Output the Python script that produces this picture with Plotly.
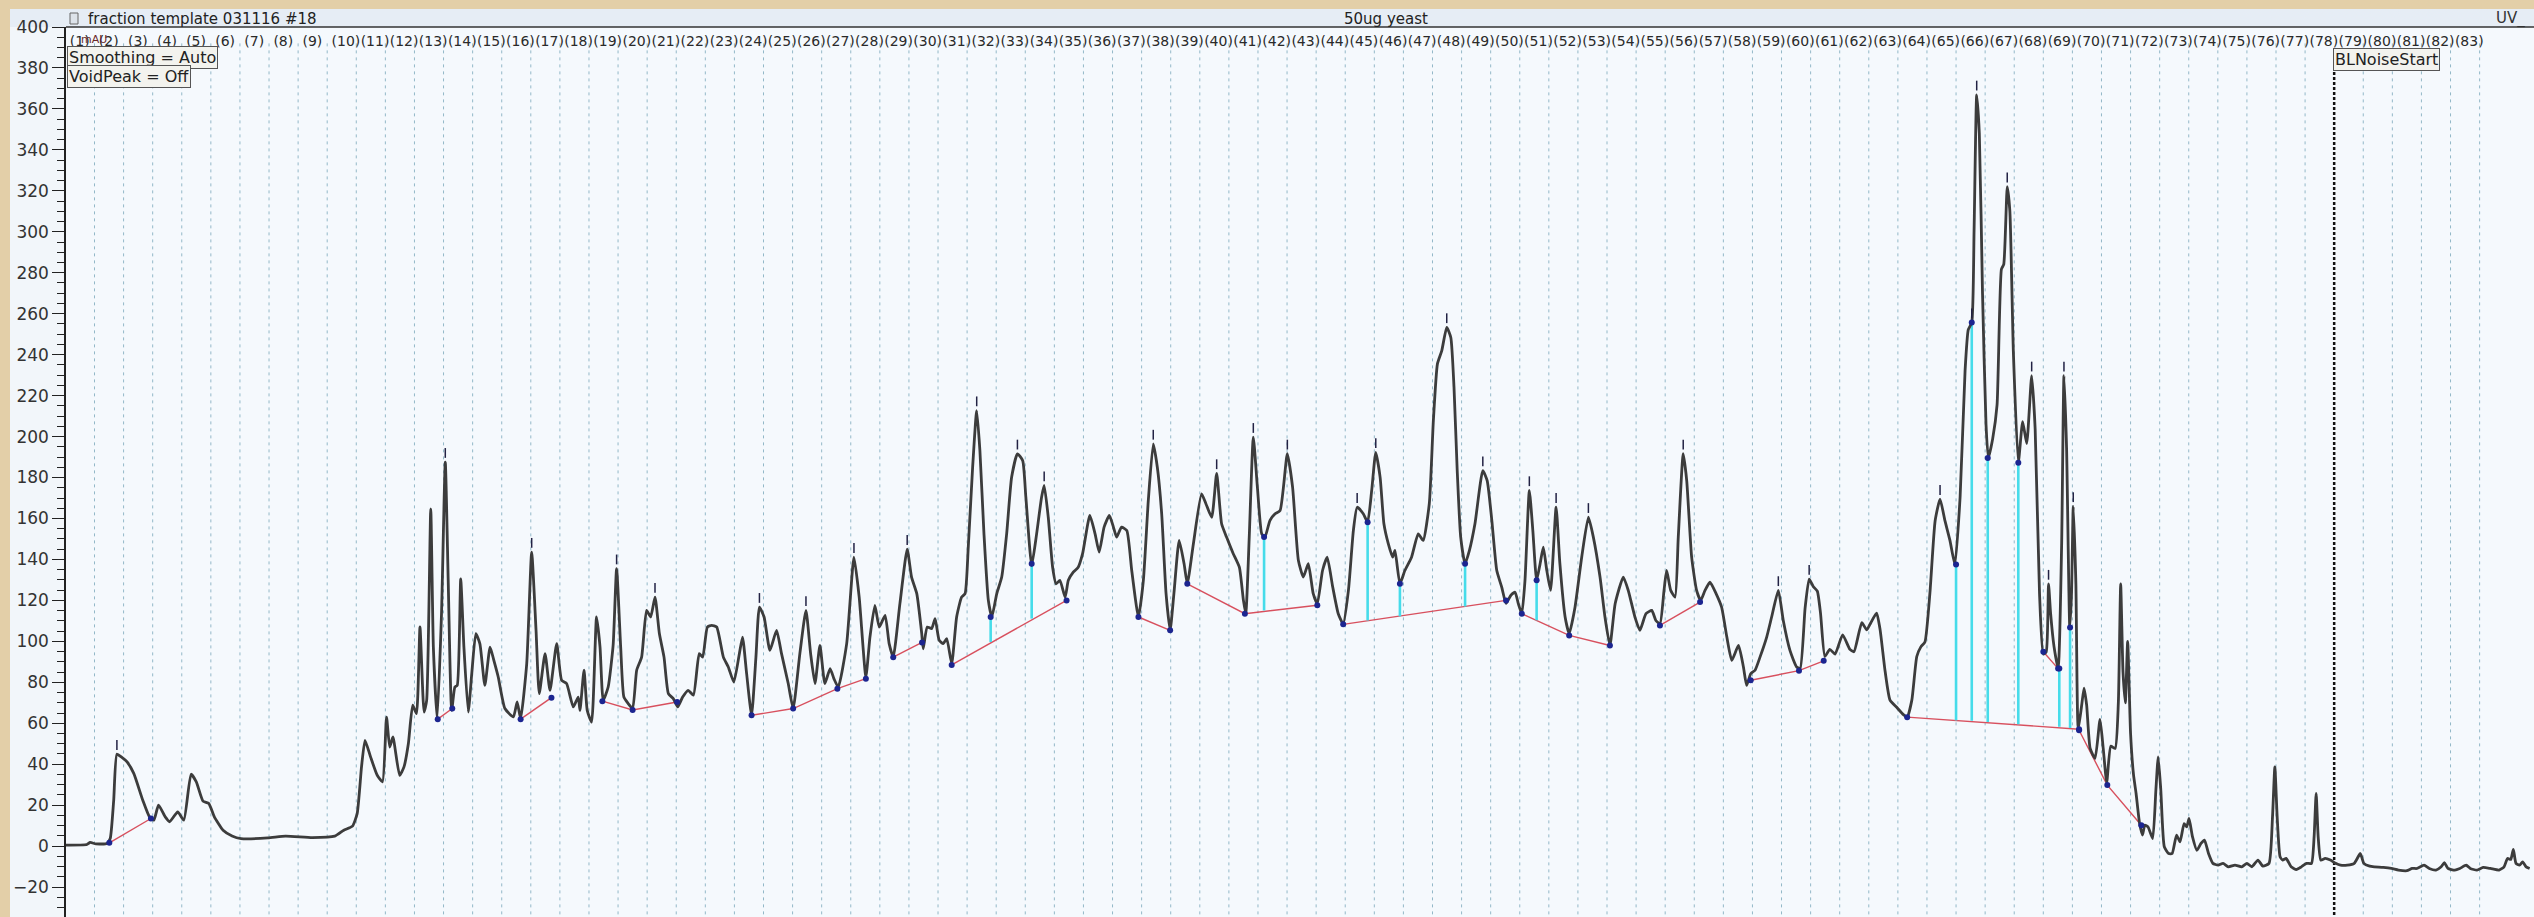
import plotly.graph_objects as go

# ---- UV trace (retention time in min, absorbance in mAU) ----
time_min = [
    0.00, 0.74, 0.85, 1.05, 1.43, 1.54, 1.66, 1.77, 1.92, 2.12, 2.35, 2.66, 2.89, 3.04, 3.20, 3.43,
    3.58, 3.86, 4.07, 4.32, 4.50, 4.73, 4.93, 5.12, 5.42, 5.73, 6.04, 6.96, 7.57, 8.49, 9.26, 9.57,
    9.87, 10.03, 10.18, 10.30, 10.49, 10.72, 10.90, 11.04, 11.15, 11.26, 11.49, 11.64, 11.79, 11.94,
    12.07, 12.19, 12.33, 12.42, 12.56, 12.65, 12.78, 12.93, 13.06, 13.16, 13.28, 13.39, 13.47, 13.59,
    13.70, 13.85, 13.97, 14.11, 14.25, 14.42, 14.60, 14.73, 14.88, 15.11, 15.40, 15.53, 15.65, 15.86,
    16.03, 16.18, 16.29, 16.49, 16.66, 16.89, 17.06, 17.23, 17.46, 17.63, 17.69, 17.83, 17.94, 18.09,
    18.26, 18.38, 18.49, 18.66, 18.83, 18.95, 19.09, 19.20, 19.35, 19.50, 19.64, 19.81, 19.98, 20.12,
    20.27, 20.42, 20.58, 20.73, 20.90, 21.05, 21.22, 21.41, 21.59, 21.79, 21.91, 22.07, 22.22, 22.39,
    22.62, 22.79, 22.98, 23.17, 23.28, 23.42, 23.59, 23.74, 23.86, 24.02, 24.22, 24.45, 24.62, 24.85,
    25.02, 25.25, 25.46, 25.62, 25.77, 25.94, 26.11, 26.29, 26.42, 26.57, 26.86, 27.11, 27.29, 27.52,
    27.66, 27.83, 27.98, 28.18, 28.32, 28.46, 28.69, 28.94, 29.09, 29.27, 29.44, 29.49, 29.63, 29.78,
    29.90, 30.04, 30.18, 30.30, 30.47, 30.64, 30.81, 30.93, 31.04, 31.19, 31.33, 31.44, 31.58, 31.73,
    31.85, 32.02, 32.19, 32.36, 32.53, 32.73, 32.91, 33.02, 33.22, 33.39, 33.56, 33.65, 33.79, 33.94,
    34.06, 34.19, 34.37, 34.48, 34.65, 34.82, 34.97, 35.22, 35.40, 35.54, 35.71, 35.89, 36.03, 36.14,
    36.31, 36.49, 36.66, 36.89, 37.06, 37.23, 37.40, 37.54, 37.69, 37.84, 37.98, 38.11, 38.29, 38.46,
    38.57, 38.78, 39.06, 39.21, 39.41, 39.58, 39.75, 39.92, 40.15, 40.36, 40.50, 40.58, 40.70, 40.84,
    40.98, 41.13, 41.24, 41.41, 41.59, 41.76, 42.01, 42.19, 42.39, 42.56, 42.73, 42.90, 43.04, 43.22,
    43.38, 43.57, 43.76, 43.93, 44.11, 44.28, 44.41, 44.62, 44.77, 44.91, 45.05, 45.20, 45.33, 45.48,
    45.63, 45.71, 45.88, 46.05, 46.28, 46.51, 46.68, 46.89, 47.03, 47.17, 47.32, 47.49, 47.63, 47.74,
    47.85, 47.97, 48.12, 48.27, 48.46, 48.73, 48.88, 49.04, 49.21, 49.38, 49.53, 49.69, 49.84, 49.95,
    50.07, 50.18, 50.33, 50.45, 50.58, 50.70, 50.81, 50.93, 51.06, 51.25, 51.38, 51.56, 51.70, 51.90,
    52.13, 52.36, 52.53, 52.76, 52.93, 53.10, 53.28, 53.56, 53.73, 53.96, 54.13, 54.34, 54.54, 54.68,
    54.82, 54.96, 55.05, 55.19, 55.34, 55.45, 55.62, 55.74, 55.91, 56.08, 56.22, 56.37, 56.54, 56.75,
    56.94, 57.12, 57.29, 57.52, 57.69, 57.80, 57.94, 58.09, 58.26, 58.49, 58.66, 58.89, 59.06, 59.29,
    59.52, 59.64, 59.81, 59.95, 60.09, 60.23, 60.34, 60.49, 60.66, 60.84, 61.10, 61.35, 61.49, 61.76,
    61.93, 62.07, 62.27, 62.39, 62.56, 62.73, 62.96, 63.19, 63.32, 63.48, 63.65, 63.79, 63.93, 64.10,
    64.28, 64.45, 64.62, 64.79, 64.96, 65.14, 65.31, 65.42, 65.54, 65.62, 65.71, 65.80, 65.91, 66.03,
    66.11, 66.26, 66.41, 66.56, 66.64, 66.76, 66.85, 66.97, 67.14, 67.29, 67.43, 67.60, 67.72, 67.87,
    68.00, 68.10, 68.18, 68.25, 68.37, 68.51, 68.63, 68.71, 68.80, 68.91, 68.97, 69.03, 69.12, 69.20,
    69.32, 69.40, 69.49, 69.61, 69.78, 69.95, 70.06, 70.18, 70.32, 70.47, 70.58, 70.66, 70.74, 70.82,
    70.90, 71.00, 71.10, 71.19, 71.31, 71.41, 71.49, 71.60, 71.76, 71.87, 71.95, 72.04, 72.16, 72.31,
    72.43, 72.58, 72.70, 72.84, 72.93, 73.01, 73.13, 73.28, 73.42, 73.54, 73.68, 73.83, 74.01, 74.18,
    74.36, 74.59, 74.82, 75.00, 75.17, 75.38, 75.55, 75.76, 75.88, 75.96, 76.04, 76.14, 76.23, 76.35,
    76.52, 76.70, 76.87, 77.05, 77.22, 77.31, 77.38, 77.45, 77.54, 77.69, 77.87, 78.05, 78.22, 78.45,
    78.69, 78.90, 79.02, 79.22, 79.39, 79.69, 79.97, 80.21, 80.50, 80.68, 80.85, 81.09, 81.27, 81.50,
    81.68, 81.79, 81.91, 82.15, 82.32, 82.54, 82.68, 82.91, 83.12, 83.37, 83.67, 83.84, 83.96, 84.07,
    84.16, 84.25, 84.37, 84.48, 84.60, 84.72,
]
absorbance_mau = [
    0.5, 0.8, 1.8, 1.1, 1.3, 3.7, 22.4, 44.9, 43.6, 41.1, 35.5, 22.4, 14.3, 12.7, 20.0, 14.3,
    11.9, 16.7, 12.7, 35.1, 31.4, 22.0, 20.8, 14.3, 7.8, 5.0, 3.7, 4.0, 4.9, 4.2, 4.9, 7.8,
    9.8, 15.9, 38.7, 51.7, 43.6, 34.6, 31.4, 63.0, 48.4, 53.3, 34.6, 38.7, 50.0, 68.8,
    64.7, 107.0, 65.5, 71.2, 164.7, 97.2, 62.3, 113.5, 187.5, 129.8, 66.3, 77.7, 78.5, 130.5,
    97.2, 65.5, 84.2, 103.8, 98.8, 78.5, 97.2, 90.7, 82.6, 67.2, 63.1, 70.4, 62.3, 89.1,
    143.6, 105.4, 74.5, 94.0, 76.1, 98.9, 81.0, 79.4, 68.0, 72.8, 66.3, 85.9, 66.3, 60.6,
    111.9, 97.2, 71.2, 77.7, 98.0, 135.5, 97.2, 72.8, 69.6, 67.2, 85.9, 92.3, 115.1, 111.9,
    121.6, 103.8, 92.3, 74.5, 72.0, 68.0, 72.8, 76.1, 73.7, 94.0, 92.3, 107.0, 107.8, 107.0,
    92.3, 87.5, 80.1, 94.0, 102.1, 84.2, 63.9, 92.3, 116.7, 111.9, 95.6, 105.4, 94.0, 79.4,
    67.2, 94.0, 115.1, 94.0, 79.4, 98.0, 79.4, 86.7, 81.8, 77.7, 98.9, 141.1, 121.6, 82.6,
    102.1, 117.6, 107.0, 112.7, 98.9, 92.3, 118.4, 145.0, 131.4, 123.3, 103.8, 96.4, 107.0, 106.2,
    111.1, 100.5, 98.9, 101.3, 89.1, 111.9, 121.6, 123.3, 146.0, 185.0, 212.7, 193.2, 152.5, 120.0,
    111.9, 123.3, 131.4, 152.5, 180.1, 191.6, 188.3, 170.4, 137.1, 152.5, 170.4, 176.1, 160.6, 136.2,
    128.1, 129.8, 121.6, 129.8, 133.8, 136.2, 142.8, 161.5, 152.5, 143.6, 155.8, 161.5, 155.8, 150.9,
    155.8, 154.1, 134.6, 111.9, 129.8, 168.8, 196.4, 185.0, 162.3, 123.3, 105.4, 123.3, 149.3, 137.9,
    128.1, 147.7, 172.0, 167.2, 160.6, 182.0, 157.4, 150.9, 142.8, 136.2, 120.0, 113.5, 150.9, 199.7,
    175.3, 152.5, 150.9, 159.0, 162.3, 163.9, 191.6, 175.3, 139.5, 131.4, 137.9, 123.3, 118.4, 134.6,
    141.1, 126.5, 113.5, 108.6, 124.9, 154.1, 165.5, 162.3, 158.2, 173.7, 192.3, 180.1, 157.4, 147.7,
    141.1, 144.4, 128.1, 134.6, 141.1, 152.5, 149.3, 167.2, 207.8, 235.5, 242.0, 253.3, 248.4, 224.0,
    183.4, 150.9, 137.9, 144.4, 157.4, 183.4, 178.5, 159.0, 134.6, 126.5, 118.5, 122.4, 124.0, 118.4,
    113.5, 129.8, 173.7, 154.1, 129.8, 137.9, 146.0, 134.6, 124.9, 165.5, 137.9, 111.9, 103.8, 116.7,
    141.1, 160.6, 150.9, 131.4, 111.9, 98.0, 118.4, 131.4, 124.9, 111.9, 105.4, 113.5, 115.1, 110.2,
    108.6, 124.9, 134.6, 124.9, 121.6, 150.9, 191.6, 178.5, 141.1, 124.9, 120.0, 124.9, 128.9, 123.3,
    116.7, 102.1, 90.7, 98.0, 87.5, 78.5, 84.2, 85.9, 92.3, 102.1, 111.9, 124.9, 110.2, 95.6,
    87.5, 86.7, 116.2, 130.4, 126.8, 124.5, 113.8, 92.6, 96.1, 93.8, 103.2, 96.1, 94.9, 109.1,
    105.6, 109.1, 113.8, 105.6, 85.5, 71.3, 67.8, 64.2, 63.0, 71.3, 92.6, 97.3, 99.7, 123.3,
    158.8, 169.4, 158.8, 149.3, 137.5, 170.6, 232.1, 252.2, 255.7, 300.6, 366.9, 348.0, 269.9, 206.0,
    189.5, 199.0, 215.5, 281.7, 284.1, 322.0, 310.1, 241.6, 187.2, 207.3, 196.6, 229.7, 203.7, 123.3,
    93.8, 94.9, 128.0, 113.8, 97.3, 86.7, 147.0, 229.7, 194.3, 106.8, 123.3, 165.9, 128.0, 57.1,
    68.9, 77.2, 68.9, 47.7, 42.9, 61.9, 47.7, 31.1, 48.8, 47.7, 70.0, 128.0, 85.0, 70.0,
    100.0, 55.0, 35.0, 25.7, 11.0, 5.4, 10.2, 9.4, 3.7, 27.3, 43.6, 27.3, -0.3, -3.6,
    -3.6, 5.4, 2.1, 11.0, 9.4, 13.5, 4.5, -2.0, 1.3, 2.9, -3.6, -8.4, -9.3, -8.4,
    -10.1, -9.3, -10.1, -8.4, -10.1, -6.8, -9.8, -8.4, 14.3, 38.7, 14.3, -5.2, -6.8, -6.0,
    -10.1, -11.4, -10.1, -8.4, -8.4, 4.5, 25.7, 4.5, -6.8, -6.0, -6.8, -8.4, -9.3, -9.3,
    -8.4, -3.6, -8.4, -9.8, -10.1, -10.4, -10.9, -11.7, -12.0, -10.9, -10.9, -9.3, -10.9, -11.7,
    -10.1, -8.1, -10.9, -11.7, -10.9, -9.3, -10.9, -11.7, -10.4, -10.9, -11.7, -10.1, -6.0, -6.5,
    -1.6, -8.4, -9.3, -7.7, -10.1, -10.9,
]

# ---- integration baselines (valley-to-valley segments) ----
baseline_segments = [
    [(1.51, 1.6), (2.94, 13.5)],
    [(12.80, 62.0), (13.30, 67.2)],
    [(15.65, 62.0), (16.71, 72.5)],
    [(18.46, 70.8), (19.50, 66.5), (21.03, 70.4)],
    [(23.59, 63.9), (25.02, 67.2), (26.54, 76.9), (27.52, 81.8)],
    [(28.46, 92.3), (29.45, 99.5)],
    [(30.47, 88.5), (34.42, 120.0)],
    [(36.89, 111.9), (37.98, 105.4)],
    [(38.57, 128.1), (40.55, 113.5), (43.04, 117.6)],
    [(43.93, 108.3), (49.53, 120.0)],
    [(50.07, 113.5), (51.70, 102.9), (53.10, 98.0)],
    [(54.82, 107.8), (56.20, 119.2)],
    [(57.94, 81.0), (59.60, 85.7), (60.45, 90.5)],
    [(63.32, 63.0), (69.23, 57.1)],
    [(68.00, 94.9), (68.51, 86.7)],
    [(69.23, 56.6), (70.20, 29.8), (71.37, 10.2)],
]

# ---- perpendicular drops between fused peaks: time, top, bottom ----
drop_time = [31.81, 33.22, 41.21, 44.77, 45.88, 48.12, 50.58, 65.00, 65.54, 66.09, 67.14, 68.55, 68.92]
drop_top = [111.9, 137.9, 150.9, 158.2, 128.1, 137.9, 129.8, 137.5, 255.7, 189.5, 187.2, 86.7, 106.8]
drop_bottom = [99.7, 111.1, 115.1, 110.2, 112.2, 117.0, 110.3, 61.4, 61.2, 60.6, 59.5, 58.3, 57.7]

# ---- detected peak apexes ----
apex_time = [1.77, 13.06, 16.03, 18.95, 20.27, 23.86, 25.46, 27.11, 28.94, 31.33, 32.73, 33.65,
             37.40, 39.58, 40.84, 42.01, 44.41, 45.05, 47.49, 48.73, 50.33, 51.25, 52.36, 55.62,
             58.89, 59.95, 64.45, 65.54, 65.71, 66.76, 67.60, 68.18, 68.71, 69.03]
apex_mau = [44.9, 187.5, 143.6, 135.5, 121.6, 116.7, 115.1, 141.1, 145.0, 212.7, 191.6, 176.1,
            196.4, 182.0, 199.7, 191.6, 165.5, 192.3, 253.3, 183.4, 173.7, 165.5, 160.6, 191.6,
            124.9, 130.4, 169.4, 255.7, 366.9, 322.0, 229.7, 128.0, 229.7, 165.9]

# ---- fraction collector: 1 min per fraction ----
fraction_numbers = list(range(1, 84))
fraction_width_min = 1.0
bl_noise_start_min = 78.0

Y_MIN, Y_MAX = -34.6, 400.0
X_MIN, X_MAX = 0.02, 84.87
W, H = 2534, 917
ML, MT = 66, 27
PW, PH = W - ML, H - MT


def px_to_paper_x(px):
    return (px - ML) / PW


def px_to_paper_y(py):
    return (H - py) / PH


fig = go.Figure()

# fraction boundaries (dashed)
gx, gy = [], []
for n in fraction_numbers:
    t = n * fraction_width_min
    if abs(t - bl_noise_start_min) < 1e-9:
        continue
    gx += [t, t, None]
    gy += [392, Y_MIN, None]
fig.add_trace(go.Scatter(x=gx, y=gy, mode="lines", hoverinfo="skip",
                         line=dict(color="#93b8c8", width=1, dash="3px,4px")))

# noise start marker
fig.add_trace(go.Scatter(x=[bl_noise_start_min, bl_noise_start_min], y=[378, Y_MIN], mode="lines",
                         hoverinfo="skip", line=dict(color="#111111", width=2.5, dash="3px,2px")))

# baselines
bx, by = [], []
for seg in baseline_segments:
    for t, v in seg:
        bx.append(t)
        by.append(v)
    bx.append(None)
    by.append(None)
fig.add_trace(go.Scatter(x=bx, y=by, mode="lines", hoverinfo="skip",
                         line=dict(color="#d8505e", width=1.4)))

# drop lines
dx, dy = [], []
for t, top, bot in zip(drop_time, drop_top, drop_bottom):
    dx += [t, t, None]
    dy += [top, bot, None]
fig.add_trace(go.Scatter(x=dx, y=dy, mode="lines", hoverinfo="skip",
                         line=dict(color="#46dcea", width=2.6)))

# chromatogram
fig.add_trace(go.Scatter(x=time_min, y=absorbance_mau, mode="lines",
                         line=dict(color="#3c3c3c", width=2.8, shape="spline", smoothing=0.5)))

# valley markers
mx, my = [], []
for seg in baseline_segments:
    for t, v in seg:
        mx.append(t)
        my.append(v)
mx += drop_time
my += drop_top
fig.add_trace(go.Scatter(x=mx, y=my, mode="markers", hoverinfo="skip",
                         marker=dict(color="#1c2590", size=6, symbol="circle")))

# apex ticks
fig.add_trace(go.Scatter(x=apex_time, y=[v + 4.5 for v in apex_mau], mode="markers", hoverinfo="skip",
                         marker=dict(symbol="line-ns", size=7, line=dict(color="#222244", width=1.5))))

# fraction labels along the top
fig.add_trace(go.Scatter(
    x=[(n - 1) * fraction_width_min + 0.15 for n in fraction_numbers],
    y=[392.5] * len(fraction_numbers),
    mode="text", text=[f"({n})" for n in fraction_numbers], textposition="middle right",
    textfont=dict(family="DejaVu Sans", size=14, color="#2a2a2a"), hoverinfo="skip"))

shapes = [
    # left frame strip
    dict(type="rect", xref="paper", yref="paper", x0=px_to_paper_x(0), x1=px_to_paper_x(10),
         y0=0, y1=px_to_paper_y(0), fillcolor="#e3cfa8", line=dict(width=0), layer="below"),
    # top frame strip
    dict(type="rect", xref="paper", yref="paper", x0=px_to_paper_x(0), x1=1,
         y0=px_to_paper_y(9), y1=px_to_paper_y(0), fillcolor="#e3cfa8", line=dict(width=0), layer="below"),
    # header band
    dict(type="rect", xref="paper", yref="paper", x0=px_to_paper_x(10), x1=1,
         y0=1, y1=px_to_paper_y(9), fillcolor="#e6edf5", line=dict(width=0), layer="below"),
    # top border of the plotting area
    dict(type="line", xref="paper", yref="paper", x0=0, x1=1, y0=1, y1=1,
         line=dict(color="#333333", width=1.5)),
    # document icon
    dict(type="rect", xref="paper", yref="paper", x0=px_to_paper_x(70), x1=px_to_paper_x(78),
         y0=px_to_paper_y(24), y1=px_to_paper_y(13), fillcolor="#dde3ea",
         line=dict(color="#666666", width=1)),
]

annotations = [
    dict(text="fraction template 031116 #18", xref="paper", yref="paper", x=px_to_paper_x(86),
         y=px_to_paper_y(18.5), xanchor="left", yanchor="middle", showarrow=False,
         font=dict(family="DejaVu Sans", size=15, color="#222222")),
    dict(text="50ug yeast", xref="paper", yref="paper", x=px_to_paper_x(1386),
         y=px_to_paper_y(18.5), xanchor="center", yanchor="middle", showarrow=False,
         font=dict(family="DejaVu Sans", size=15, color="#222222")),
    dict(text="UV_", xref="paper", yref="paper", x=px_to_paper_x(2494),
         y=px_to_paper_y(18.5), xanchor="left", yanchor="middle", showarrow=False,
         font=dict(family="DejaVu Sans", size=15, color="#333333")),
    dict(text="mAU", xref="paper", yref="paper", x=px_to_paper_x(79),
         y=px_to_paper_y(39), xanchor="left", yanchor="middle", showarrow=False,
         font=dict(family="DejaVu Sans", size=11, color="#6b2a2a")),
    dict(text="Smoothing = Auto", xref="paper", yref="paper", x=px_to_paper_x(67),
         y=px_to_paper_y(46), xanchor="left", yanchor="top", showarrow=False,
         bgcolor="#f3f3ee", bordercolor="#555555", borderwidth=1, borderpad=1,
         font=dict(family="DejaVu Sans", size=16, color="#222222")),
    dict(text="VoidPeak = Off", xref="paper", yref="paper", x=px_to_paper_x(67),
         y=px_to_paper_y(65), xanchor="left", yanchor="top", showarrow=False,
         bgcolor="#f3f3ee", bordercolor="#555555", borderwidth=1, borderpad=1,
         font=dict(family="DejaVu Sans", size=16, color="#222222")),
    dict(text="BLNoiseStart", xref="paper", yref="paper", x=px_to_paper_x(2333),
         y=px_to_paper_y(48), xanchor="left", yanchor="top", showarrow=False,
         bgcolor="#f3f3ee", bordercolor="#555555", borderwidth=1, borderpad=1,
         font=dict(family="DejaVu Sans", size=16, color="#222222")),
]

fig.update_layout(
    width=W, height=H,
    margin=dict(l=ML, r=0, t=MT, b=0, pad=0),
    paper_bgcolor="#f2f6fa",
    plot_bgcolor="#f5f9fd",
    showlegend=False,
    shapes=shapes,
    annotations=annotations,
    xaxis=dict(range=[X_MIN, X_MAX], visible=False, showgrid=False, zeroline=False),
    yaxis=dict(range=[Y_MIN, Y_MAX], dtick=20, tick0=0, ticks="outside", ticklen=12, tickwidth=1,
               tickcolor="#222222", showline=True, linecolor="#222222", linewidth=1.5,
               showgrid=False, zeroline=False,
               tickfont=dict(family="DejaVu Sans", size=17, color="#333333"),
               minor=dict(dtick=5, ticks="outside", ticklen=7, tickcolor="#222222")),
)

fig.write_html("out.html")
